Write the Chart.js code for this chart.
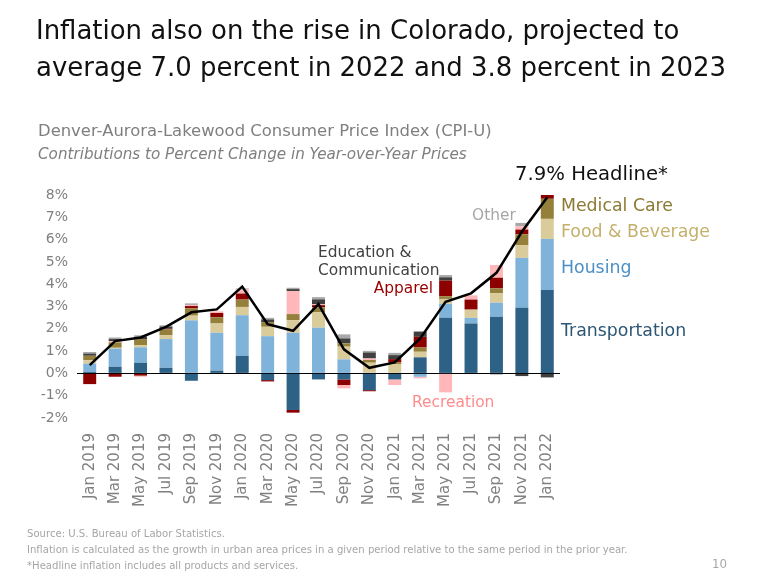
<!DOCTYPE html>
<html><head><meta charset="utf-8">
<script src="https://cdn.jsdelivr.net/npm/chart.js@4.4.1/dist/chart.umd.min.js"></script>
<style>
html,body{margin:0;padding:0;background:#fff;width:768px;height:581px;overflow:hidden;}
#wrap{position:relative;width:768px;height:581px;}
#c{position:absolute;left:0;top:0;}
.t{position:absolute;white-space:nowrap;line-height:1;font-family:"DejaVu Sans",sans-serif;}
</style></head><body>
<div id="wrap"><canvas id="c" width="768" height="581"></canvas></div>
<script>
// ---- data (percentage-point contributions) ----
const categories = ['Jan 2019','Mar 2019','May 2019','Jul 2019','Sep 2019','Nov 2019','Jan 2020','Mar 2020','May 2020','Jul 2020','Sep 2020','Nov 2020','Jan 2021','Mar 2021','May 2021','Jul 2021','Sep 2021','Nov 2021','Jan 2022'];
const transportation = [0.07, 0.30, 0.48, 0.25, -0.33, 0.12, 0.79, -0.30, -1.64, -0.27, -0.27, -0.75, -0.27, 0.72, 2.50, 2.24, 2.54, 2.94, 3.74];
const housing        = [0.37, 0.81, 0.69, 1.29, 2.38, 1.70, 1.82, 1.67, 1.82, 2.05, 0.63, 0.03, 0.00, -0.15, 0.62, 0.25, 0.63, 2.24, 2.29];
const foodBeverage   = [0.15, 0.04, 0.10, 0.18, 0.21, 0.42, 0.37, 0.42, 0.57, 0.70, 0.57, 0.45, 0.42, 0.25, 0.22, 0.37, 0.42, 0.57, 0.90];
const medicalCare    = [0.20, 0.24, 0.27, 0.25, 0.33, 0.28, 0.33, 0.21, 0.27, 0.21, 0.15, 0.12, 0.07, 0.19, 0.12, 0.00, 0.22, 0.49, 0.90];
const apparel        = [-0.48, -0.15, -0.10, 0.03, 0.10, 0.19, 0.27, -0.06, -0.12, 0.10, -0.25, -0.05, 0.15, 0.48, 0.70, 0.45, 0.48, 0.21, 0.26];
const recreation     = [0.00, 0.06, -0.05, 0.00, 0.05, 0.07, 0.18, 0.00, 1.03, 0.04, -0.15, 0.07, -0.25, -0.07, -0.85, 0.19, 0.57, 0.15, 0.00];
const eduComm        = [0.10, 0.09, 0.10, 0.10, 0.00, 0.00, 0.00, 0.12, 0.09, 0.22, 0.22, 0.27, 0.18, 0.22, 0.15, 0.00, -0.04, -0.12, -0.18];
const other          = [0.07, 0.07, 0.07, 0.06, 0.07, 0.00, 0.05, 0.07, 0.06, 0.10, 0.18, 0.07, 0.10, 0.04, 0.10, 0.00, 0.00, 0.15, 0.00];
const headline       = [0.37, 1.45, 1.61, 2.09, 2.74, 2.87, 3.89, 2.21, 1.91, 3.11, 1.08, 0.25, 0.49, 1.57, 3.21, 3.59, 4.51, 6.35, 7.9];
const yMin = -2, yMax = 8, yStep = 1;

// ---- chart ----
const colors = {
  transportation:'#2e6186', housing:'#80b3d9', food:'#dacb9b', medical:'#94803b',
  apparel:'#8c0000', recreation:'#ffb7ba', edu:'#404040', other:'#a8a8a8'
};
const barSeries = [
  ['Transportation', transportation, colors.transportation],
  ['Housing', housing, colors.housing],
  ['Food & Beverage', foodBeverage, colors.food],
  ['Medical Care', medicalCare, colors.medical],
  ['Apparel', apparel, colors.apparel],
  ['Recreation', recreation, colors.recreation],
  ['Education & Communication', eduComm, colors.edu],
  ['Other', other, colors.other]
];
const datasets = [{
  type:'line', label:'Headline', data:headline, borderColor:'#000', borderWidth:2.5,
  pointRadius:0, fill:false, tension:0, stack:'headline', order:0
}].concat(barSeries.map(([label,data,color]) => ({
  type:'bar', label, data, backgroundColor:color, borderWidth:0, stack:'cpi', order:1
})));

new Chart(document.getElementById('c').getContext('2d'), {
  type:'bar',
  data:{labels:categories, datasets},
  options:{
    responsive:false, animation:false, devicePixelRatio:1,
    layout:{padding:{left:0, top:195, right:208, bottom:0}},
    plugins:{legend:{display:false}, tooltip:{enabled:false}, title:{display:false}},
    datasets:{bar:{categoryPercentage:1, barPercentage:0.51}},
    scales:{
      x:{stacked:true, grid:{display:false}, border:{display:false},
        ticks:{autoSkip:false, minRotation:90, maxRotation:90, color:'#808080',
          font:{family:'DejaVu Sans', size:15}, padding:7},
        afterFit(s){ s.height = 163; }},
      y:{stacked:true, min:yMin, max:yMax,
        ticks:{stepSize:yStep, callback:v => v + '%', color:'#808080',
          font:{family:'DejaVu Sans', size:14}, padding:9},
        grid:{drawTicks:false, lineWidth:1, color:c => (c.tick && c.tick.value === 0) ? '#000' : 'rgba(0,0,0,0)'},
        border:{display:false},
        afterFit(s){ s.width = 77; }}
    }
  }
});

// ---- text ----
const wrap = document.getElementById('wrap');
function makeEl(t){
  const el = document.createElement('div');
  el.className = 't';
  el.textContent = t.text;
  el.style.color = t.color;
  if (t.italic) el.style.fontStyle = 'italic';
  if (t.cond) { el.style.fontFamily = '"DejaVu Sans Condensed","DejaVu Sans",sans-serif'; el.style.fontStretch = 'condensed'; }
  el.style.fontSize = '100px';
  wrap.appendChild(el);
  const w = el.getBoundingClientRect().width;
  return {el, fit: 100 * (t.right - t.x) / w};
}
const textLayout = [
  {text:'Inflation also on the rise in Colorado, projected to', x:36, right:667, base:39.5, color:'#111', g:'title'},
  {text:'average 7.0 percent in 2022 and 3.8 percent in 2023', x:36, right:740, base:77, color:'#111', g:'title'},
  {text:'Denver-Aurora-Lakewood Consumer Price Index (CPI-U)', x:38, right:492, base:136.7, color:'#7f7f7f'},
  {text:'Contributions to Percent Change in Year-over-Year Prices', x:38, right:467, base:160, color:'#7f7f7f', italic:true},
  {text:'7.9% Headline*', x:515, right:668, base:181, color:'#111'},
  {text:'Medical Care', x:561, right:679, base:212, color:'#8c7a33', g:'right'},
  {text:'Food & Beverage', x:561, right:714, base:238, color:'#c4b06c', g:'right'},
  {text:'Housing', x:561, right:627, base:273.5, color:'#4a8fc6', g:'right'},
  {text:'Transportation', x:561, right:684, base:337, color:'#2d5675', g:'right'},
  {text:'Other', x:472, right:516, base:221.5, color:'#a6a6a6', g:'inner'},
  {text:'Education &', x:318, right:412, base:258, color:'#404040', g:'inner'},
  {text:'Communication', x:318, right:433, base:276.5, color:'#404040', g:'inner'},
  {text:'Apparel', x:370, right:433, base:294, color:'#990000', g:'inner', alignRight:true},
  {text:'Recreation', x:412, right:493, base:408, color:'#ff8c8c', g:'inner'},
  {text:'Source: U.S. Bureau of Labor Statistics.', x:27, right:212, base:537, color:'#a6a6a6', cond:true, g:'foot'},
  {text:'Inflation is calculated as the growth in urban area prices in a given period relative to the same period in the prior year.', x:27, right:643, base:553, color:'#a6a6a6', cond:true, g:'foot'},
  {text:'*Headline inflation includes all products and services.', x:27, right:309, base:569, color:'#a6a6a6', cond:true, g:'foot'},
  {text:'10', x:712, right:727, base:568, color:'#a6a6a6', cond:true}
];
const made = textLayout.map(t => Object.assign({t}, makeEl(t)));
const groupSize = {};
made.forEach(m => { if (m.t.g) { (groupSize[m.t.g] = groupSize[m.t.g] || []).push(m.fit); } });
Object.keys(groupSize).forEach(k => { const a = groupSize[k]; groupSize[k] = a.reduce((s,v)=>s+v,0)/a.length; });
made.forEach(m => {
  const t = m.t;
  const size = t.g ? groupSize[t.g] : m.fit;
  m.el.style.fontSize = size + 'px';
  const w = m.el.getBoundingClientRect().width;
  const left = t.alignRight ? t.right - w : t.x;
  m.el.style.left = left + 'px';
  m.el.style.top = (t.base - 0.846 * size) + 'px';
});
</script>
</body></html>
